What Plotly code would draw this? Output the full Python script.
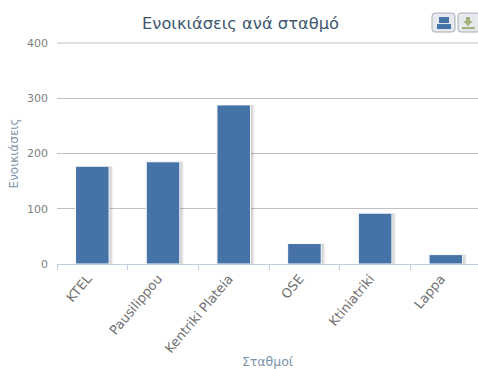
import plotly.graph_objects as go

categories = ["KTEL", "Pausilippou", "Kentriki Plateia", "OSE", "Ktiniatriki", "Lappa"]
rentals = [177, 185, 288, 37, 92, 17]
y_ticks = [0, 100, 200, 300, 400]
title_text = "Ενοικιάσεις ανά σταθμό"
x_title = "Σταθμοί"
y_title = "Ενοικιάσεις"

W, H = 478, 369
L, R, T, B = 57, 0, 43, 104.5
FONT = "DejaVu Sans"
BAR_W = 0.475


def px(x):
    return (x - L) / (W - L - R)


def py(y):
    return 1 - (y - T) / (H - T - B)


def rrect(x0, y0, x1, y1, r):
    a, b, c, d = px(x0), px(x1), py(y0), py(y1)
    rx, ry = r / (W - L - R), r / (H - T - B)
    return (f"M{a+rx},{c} L{b-rx},{c} Q{b},{c} {b},{c-ry} L{b},{d+ry} Q{b},{d} {b-rx},{d} "
            f"L{a+rx},{d} Q{a},{d} {a},{d+ry} L{a},{c-ry} Q{a},{c} {a+rx},{c} Z")


def poly(points):
    return "M" + " L".join(f"{px(x)},{py(y)}" for x, y in points) + " Z"


fig = go.Figure()
for off, wid, alpha in ((-0.012, BAR_W + 0.024, 0.05), (0.058, BAR_W, 0.04), (0.044, BAR_W, 0.06), (0.030, BAR_W, 0.08)):
    fig.add_bar(
        x=categories, y=rentals, width=wid, offset=-BAR_W / 2 + off,
        marker=dict(color=f"rgba(0,0,0,{alpha})", line=dict(width=0)),
        hoverinfo="skip", showlegend=False,
    )
fig.add_bar(
    x=categories, y=rentals, width=BAR_W, offset=-BAR_W / 2,
    marker=dict(color="#4572a7", line=dict(color="#ffffff", width=1)),
    showlegend=False,
)

shapes = [dict(type="line", xref="paper", x0=0, x1=1, yref="paper", y0=1, y1=1,
               line=dict(color="#c0c0c0", width=1), layer="below")]
for x0, x1 in ((432, 455), (458, 480)):
    shapes.append(dict(type="path", xref="paper", yref="paper", path=rrect(x0, 13, x1, 32, 3),
                       fillcolor="#e6e9ed", line=dict(color="#a8adb3", width=1), layer="above"))
for pts, col in (
    ([(439, 17), (449, 17), (449, 23), (439, 23)], "#4572a7"),
    ([(437, 24), (451, 24), (451, 29), (437, 29)], "#4572a7"),
    ([(466, 17), (470, 17), (470, 21), (473, 21), (468, 26), (463, 21), (466, 21)], "#a6b27e"),
    ([(462, 27), (475, 27), (475, 29), (462, 29)], "#a6b27e"),
):
    shapes.append(dict(type="path", xref="paper", yref="paper", path=poly(pts),
                       fillcolor=col, line=dict(width=0), layer="above"))

fig.update_layout(
    width=W, height=H, barmode="overlay", bargap=0.5,
    margin=dict(l=L, r=R, t=T, b=B),
    paper_bgcolor="#ffffff", plot_bgcolor="#ffffff",
    font=dict(family=FONT, color="#666666", size=12),
    title=dict(text=title_text, x=240.5 / W, xanchor="center", y=1 - 23 / H, yanchor="middle",
               font=dict(size=16.3, color="#3e576f", family=FONT)),
    shapes=shapes,
    xaxis=dict(
        type="category", categoryorder="array", categoryarray=categories,
        tickangle=-50, tickson="boundaries", ticks="outside", ticklen=5, tickwidth=1,
        tickcolor="#c0d0e0", linecolor="#c0d0e0", linewidth=1, showline=True, showgrid=False,
        tickfont=dict(size=13, color="#707070"),
        ticklabelstandoff=1, ticklabelshift=-5,
        title=dict(text=x_title, font=dict(size=12.5, color="#7c93ab"), standoff=14),
        range=[-0.5, 5.455], automargin=False,
    ),
    yaxis=dict(
        range=[0, 400], tickvals=y_ticks, ticks="", gridcolor="#c0c0c0", gridwidth=1,
        zeroline=False, showline=False, tickfont=dict(size=11, color="#808080"),
        ticklabelstandoff=8,
        title=dict(text=y_title, font=dict(size=12, color="#7c93ab"), standoff=5),
        automargin=False,
    ),
)
fig.write_html("out.html", config=dict(displayModeBar=False),
               post_script="document.body.style.margin='0';document.documentElement.style.overflow='hidden';")
